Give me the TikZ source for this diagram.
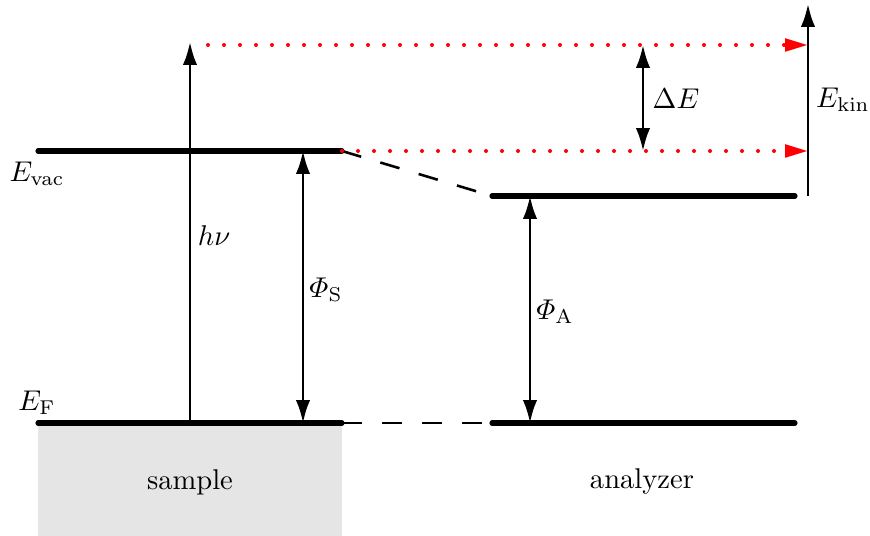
\documentclass[tikz,border=0pt]{standalone}
\usepackage{amsmath, amssymb}
\usetikzlibrary{arrows.meta, positioning, calc}

\begin{document}
\begin{tikzpicture}[x=0.35pt, y=-0.35pt,
    level/.style={line width=1.8pt, line cap=round},
    energy/.style={line width=0.9pt, -{Latex[length=8pt, width=5pt]}},
    gap/.style={line width=0.9pt, {Latex[length=8pt, width=5pt]}-{Latex[length=8pt, width=5pt]}},
    link/.style={line width=0.9pt, dash pattern=on 7pt off 7pt},
    beam/.style={red, line width=1.4pt, line cap=round, dash pattern=on 0pt off 5.6pt,
        -{Triangle[length=8pt, width=4.3pt, line cap=butt]}}]
    \useasboundingbox (0, 0) rectangle (870, 536);

    % Levels
    \coordinate (vacL) at (38, 151);
    \coordinate (vacR) at (342, 151);
    \coordinate (fermiL) at (38, 423);
    \coordinate (fermiR) at (342, 423);
    \coordinate (avacL) at (492, 196);
    \coordinate (avacR) at (795, 196);
    \coordinate (afermiL) at (492, 423);
    \coordinate (afermiR) at (795, 423);

    % Sample
    \fill[black!10] (fermiL) rectangle (342, 536);
    \node (sample) at (190, 482) {sample};
    \node (analyzer) at (642, 482) {analyzer};

    \draw[level] (vacL) -- (vacR);
    \draw[level] (fermiL) -- (fermiR);
    \draw[level] (avacL) -- (avacR);
    \draw[level] (afermiL) -- (afermiR);
    \draw[link] (vacR) -- (avacL);
    \draw[link] (fermiR) -- (afermiL);

    \node (Evac) at (37, 174) {$E_{\mathrm{vac}}$};
    \node (EF) at (37, 403) {$E_{\mathrm{F}}$};

    % Photon
    \coordinate (hvtop) at (190, 42);
    \draw[energy] (190, 423) -- (hvtop);
    \node (hv) at (214, 236) {$h\nu$};

    % Work functions
    \draw[gap] (303, 151) -- (303, 423);
    \node (PhiS) at (326, 290) {$\varPhi_{\mathrm{S}}$};
    \draw[gap] (530, 196) -- (530, 423);
    \node (PhiA) at (555, 312) {$\varPhi_{\mathrm{A}}$};

    % Electrons
    \coordinate (topR) at (808, 45);
    \coordinate (botR) at (808, 151);
    \draw[beam] (208, 45) -- (topR);
    \draw[beam] (vacR) -- (botR);
    \draw[gap] (643, 45) -- (643, 151);
    \node (dE) at (676, 99) {$\Delta E$};

    % Kinetic energy
    \draw[energy] (808, 196) -- (808, 4);
    \node (Ekin) at (843, 100) {$E_{\mathrm{kin}}$};
\end{tikzpicture}
\end{document}
